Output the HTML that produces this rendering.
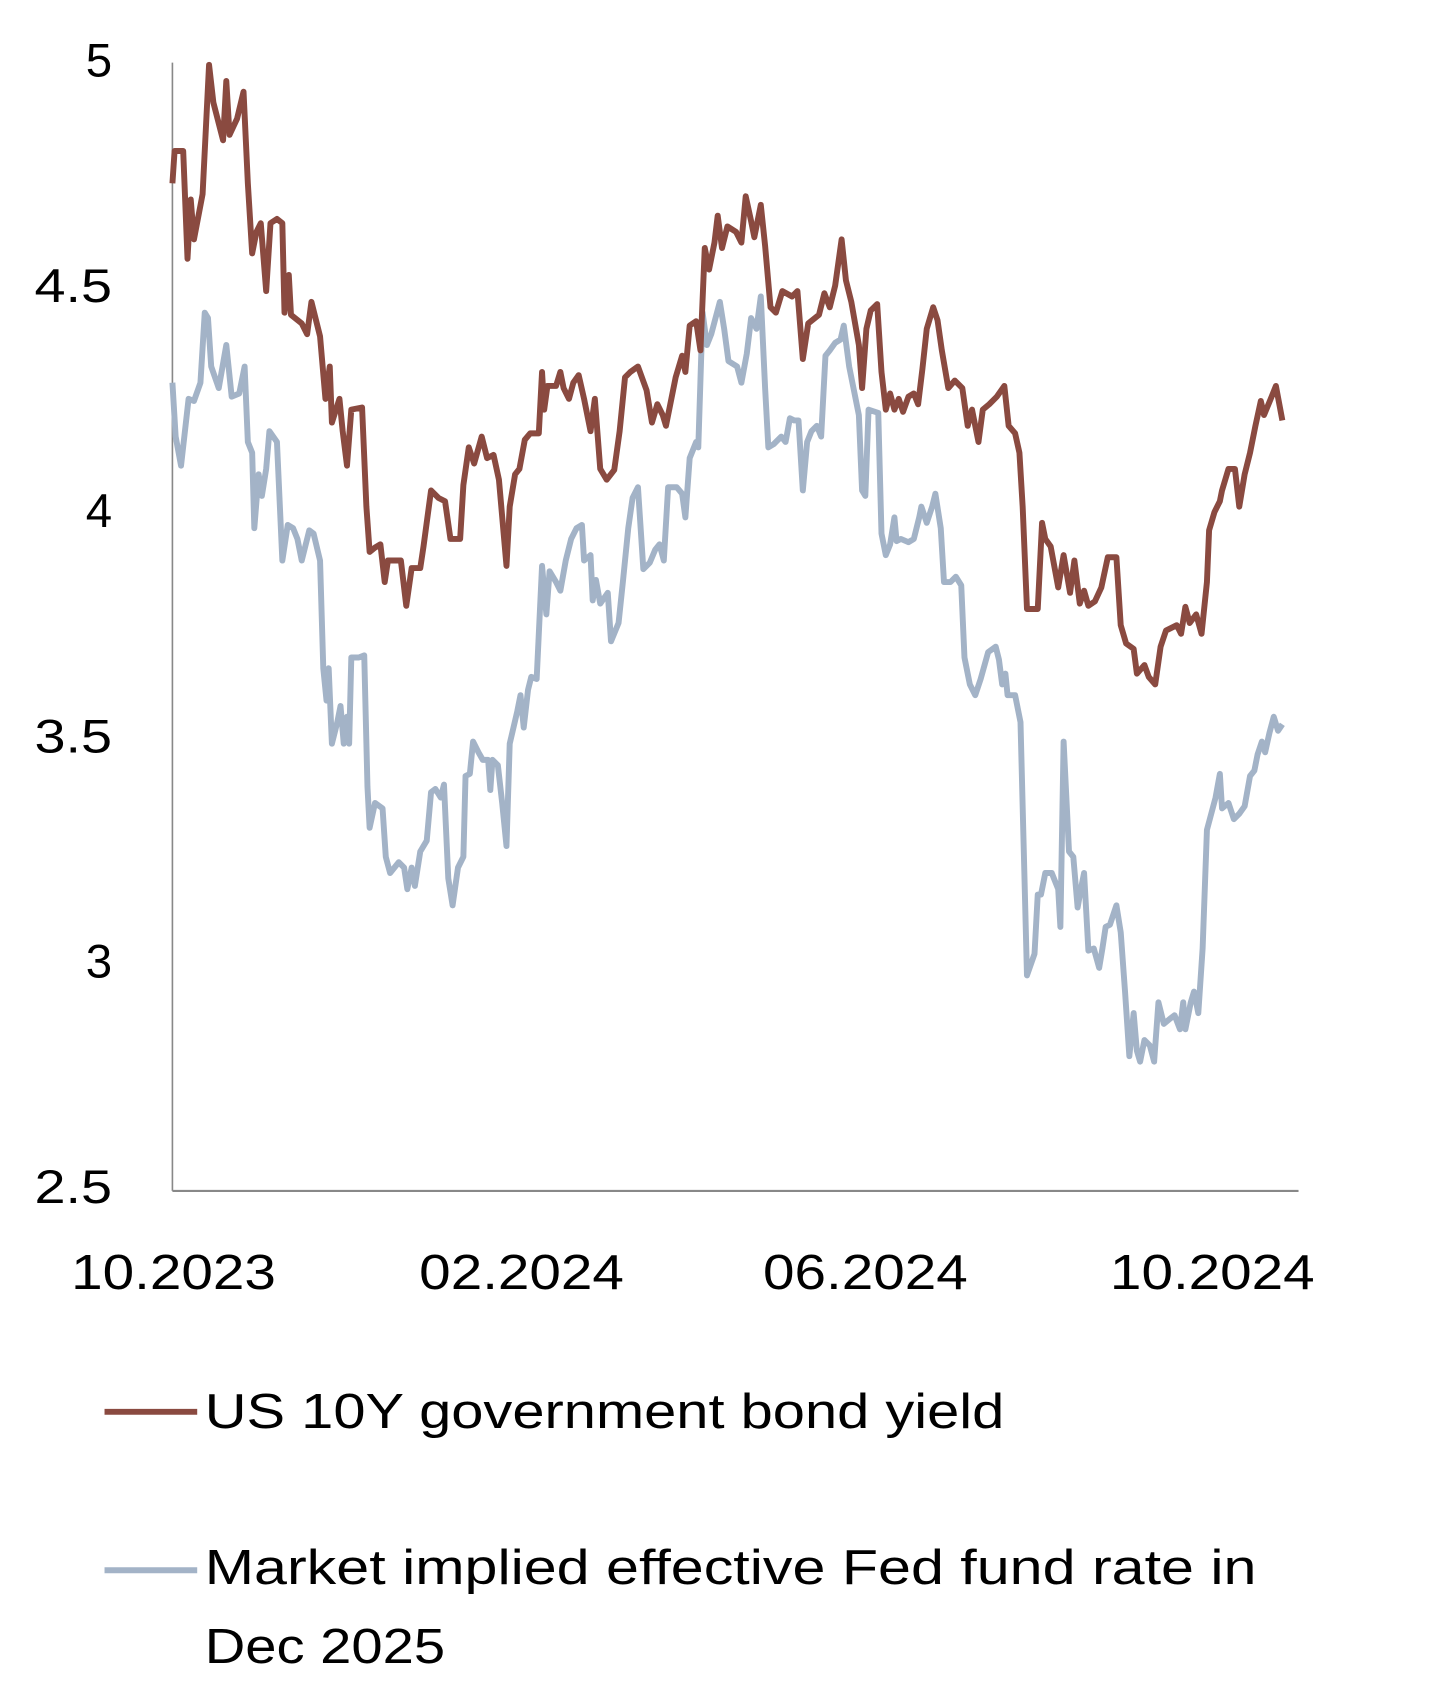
<!DOCTYPE html>
<html><head><meta charset="utf-8"><style>html,body{margin:0;padding:0;background:#fff}svg{display:block}</style></head>
<body>
<svg width="1430" height="1690" viewBox="0 0 1327 1568" xmlns="http://www.w3.org/2000/svg" font-family="'Liberation Sans',sans-serif">
<line x1="160" y1="58" x2="160" y2="1105" stroke="#888" stroke-width="1.5"/>
<line x1="160" y1="1105" x2="1205" y2="1105" stroke="#888" stroke-width="2"/>
<g font-size="44" text-anchor="end" fill="#000">
<text x="104" y="71">5</text>
<text x="104" y="280" textLength="72" lengthAdjust="spacingAndGlyphs">4.5</text>
<text x="104" y="489">4</text>
<text x="104" y="698" textLength="72" lengthAdjust="spacingAndGlyphs">3.5</text>
<text x="104" y="907">3</text>
<text x="104" y="1116" textLength="72" lengthAdjust="spacingAndGlyphs">2.5</text>
</g>
<g font-size="46" fill="#000">
<text x="66" y="1196" textLength="190" lengthAdjust="spacingAndGlyphs">10.2023</text>
<text x="389" y="1196" textLength="190" lengthAdjust="spacingAndGlyphs">02.2024</text>
<text x="708" y="1196" textLength="190" lengthAdjust="spacingAndGlyphs">06.2024</text>
<text x="1030" y="1196" textLength="190" lengthAdjust="spacingAndGlyphs">10.2024</text>
</g>
<polyline fill="none" stroke="#a3b3c7" stroke-width="5.5" stroke-linejoin="round" points="160,355 163,405 168,432 175,370 180,372 186,355 190,290 193,295 196,340 203,360 210,320 215,368 222,365 227,340 230,410 234,420 236,490 240,440 243,460 247,435 250,400 257,410 262,520 267,487 272,490 276,500 280,520 287,492 291,495 297,520 300,620 303,650 305,620 308,690 313,670 316,655 319,690 322,665 324,690 326,610 333,610 338,608 341,730 343,768 348,745 355,750 358,795 362,810 370,800 375,805 378,825 382,805 385,822 390,790 396,780 400,735 404,732 409,740 412,728 416,815 420,840 425,805 430,795 432,720 436,718 439,688 444,698 448,705 453,705 455,733 457,705 462,710 466,745 470,785 473,690 480,660 483,645 486,675 490,640 493,628 498,630 503,525 507,570 510,530 516,540 520,548 525,520 530,500 535,490 540,487 542,520 548,515 550,557 553,538 557,560 564,550 567,595 574,578 578,540 583,490 587,462 592,452 597,528 603,522 608,510 612,505 616,520 620,452 628,452 633,458 636,480 640,425 646,410 648,415 652,290 656,320 660,310 664,295 668,280 672,305 676,335 684,340 688,355 693,328 697,295 702,305 706,275 710,360 713,415 718,412 725,405 729,410 733,388 737,390 741,390 745,455 749,410 753,400 758,395 762,405 766,330 770,325 775,318 780,315 783,302 788,340 792,360 797,385 800,455 803,460 806,380 815,383 818,495 822,515 826,505 830,480 832,502 836,500 843,503 848,500 853,480 855,470 860,485 865,470 868,458 873,490 876,540 882,540 887,535 892,543 895,610 900,635 905,645 910,630 917,605 924,600 927,612 930,635 933,625 935,645 942,645 947,670 953,905 960,885 963,830 966,830 970,810 976,810 982,825 984,860 987,688 992,790 996,795 1000,842 1003,825 1006,810 1010,882 1015,880 1020,898 1023,880 1026,860 1030,858 1036,840 1040,865 1044,920 1048,980 1052,940 1055,975 1058,985 1062,965 1067,970 1071,985 1075,930 1080,950 1086,945 1090,942 1095,955 1098,930 1100,955 1105,930 1108,920 1112,940 1116,880 1120,770 1124,755 1128,740 1132,718 1134,750 1140,745 1145,760 1150,755 1155,748 1160,720 1164,715 1167,700 1171,688 1174,698 1178,680 1182,665 1186,678 1190,672"/>
<polyline fill="none" stroke="#8a4a40" stroke-width="5.5" stroke-linejoin="round" points="160,170 162,140 170,140 174,240 177,185 180,222 188,180 194,60 198,95 207,130 210,75 213,125 220,110 226,85 230,170 234,235 238,215 242,207 247,270 251,207 257,203 262,207 264,290 268,255 270,292 280,300 285,310 289,280 297,312 302,370 306,340 308,392 315,370 318,400 322,432 326,380 336,378 340,470 343,512 348,508 353,505 357,540 360,520 372,520 377,562 382,527 390,527 393,507 400,455 407,462 413,465 418,500 427,500 430,450 435,415 440,430 447,405 452,425 458,422 463,445 470,525 473,470 478,440 482,435 487,408 492,402 500,402 503,345 505,380 508,358 516,358 520,345 523,360 528,370 532,355 537,348 542,370 548,400 552,370 557,435 563,445 570,436 575,400 580,350 585,345 592,340 600,362 605,392 610,375 615,385 618,395 622,375 627,350 633,330 636,345 640,302 646,298 650,325 654,230 658,250 663,225 666,200 670,230 675,210 683,215 688,225 692,182 697,205 700,220 706,190 710,228 715,285 720,290 726,270 735,275 740,270 745,333 750,300 760,292 765,272 770,285 775,265 781,222 785,260 790,280 797,320 800,360 804,305 808,288 814,282 818,345 822,380 826,365 830,380 834,370 838,382 843,368 848,365 852,375 856,342 860,305 866,285 870,297 874,325 880,360 886,353 893,360 898,395 902,380 908,410 912,380 918,375 925,368 932,358 936,395 942,402 946,420 949,470 953,565 963,565 967,485 970,500 975,507 982,545 987,515 993,550 997,520 1002,560 1006,548 1010,562 1016,558 1022,545 1028,517 1036,517 1040,580 1045,597 1052,602 1055,625 1062,617 1066,628 1072,635 1077,600 1082,585 1092,580 1096,588 1100,563 1104,578 1110,570 1115,588 1120,540 1122,492 1127,475 1132,465 1134,455 1140,435 1146,435 1150,470 1155,440 1160,420 1165,395 1170,372 1173,385 1180,368 1184,358 1190,390"/>
<line x1="97" y1="1310" x2="183" y2="1310" stroke="#8a4a40" stroke-width="5.5"/>
<line x1="97" y1="1457" x2="183" y2="1457" stroke="#a3b3c7" stroke-width="5.5"/>
<g font-size="46" fill="#000">
<text x="190" y="1325" textLength="742" lengthAdjust="spacingAndGlyphs">US 10Y government bond yield</text>
<text x="190" y="1470" textLength="976" lengthAdjust="spacingAndGlyphs">Market implied effective Fed fund rate in</text>
<text x="190" y="1543" textLength="223" lengthAdjust="spacingAndGlyphs">Dec 2025</text>
</g>
</svg>
</body></html>
